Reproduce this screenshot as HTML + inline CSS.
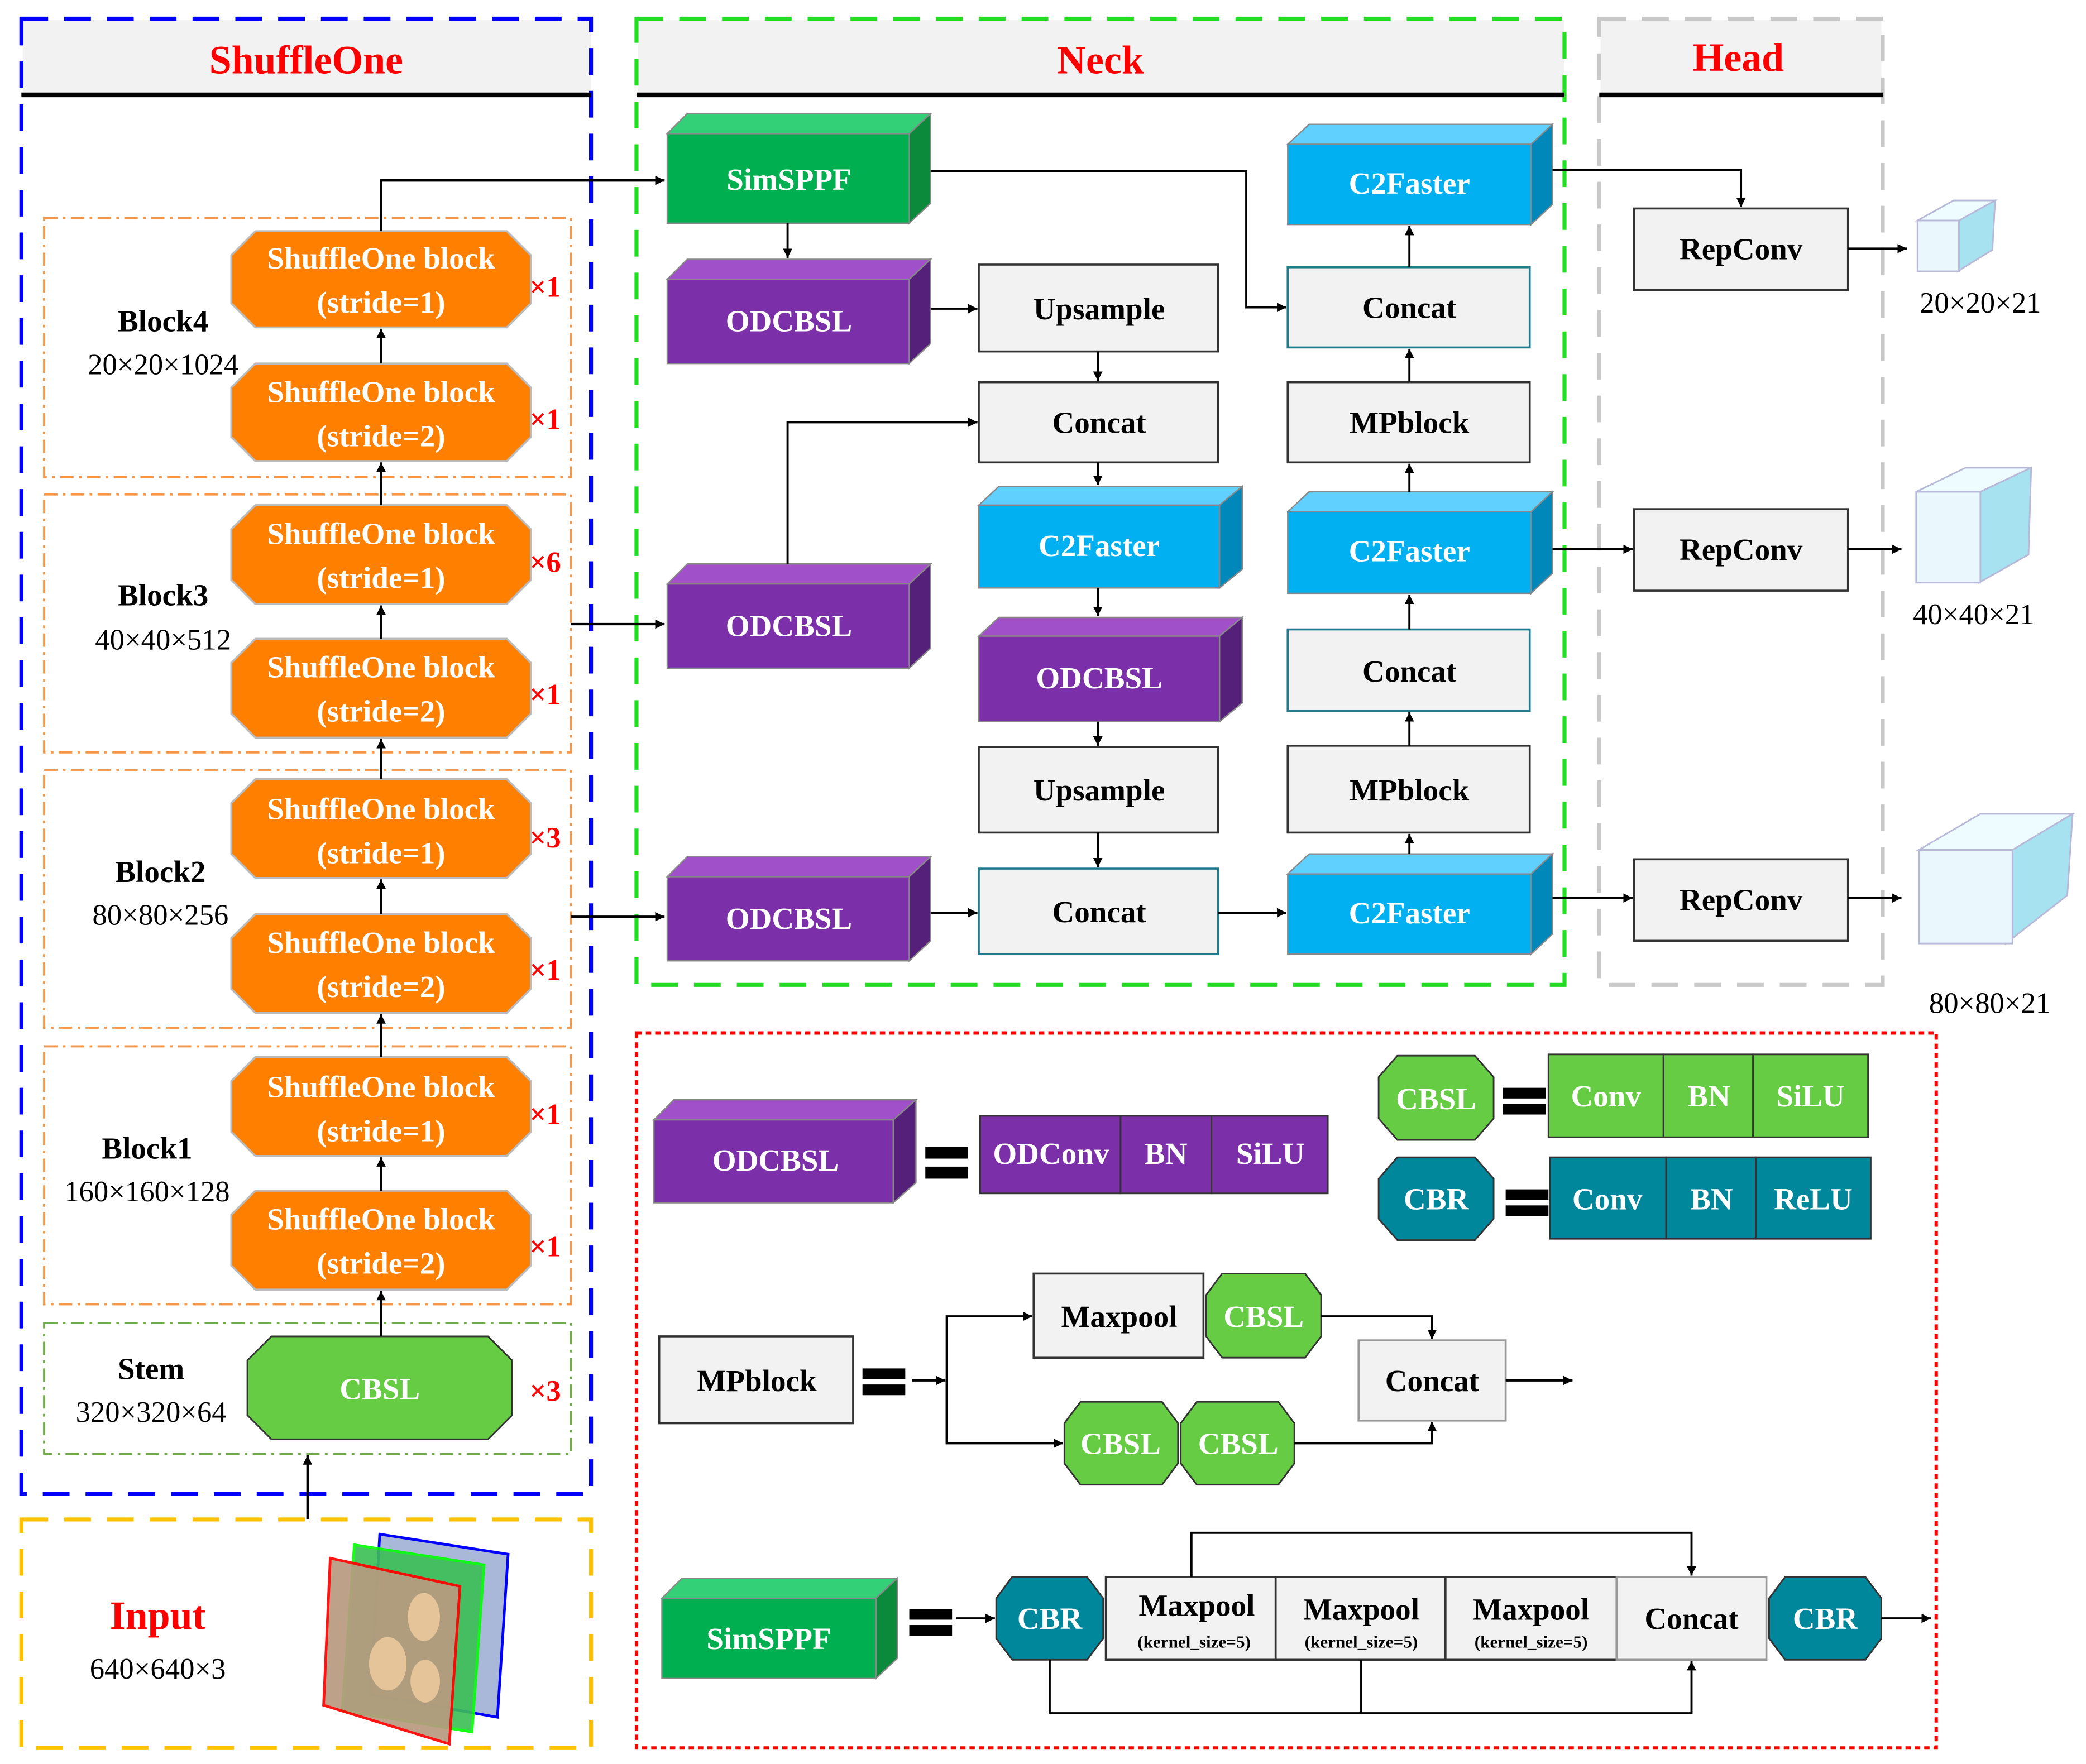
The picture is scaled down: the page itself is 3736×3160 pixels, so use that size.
<!DOCTYPE html>
<html><head><meta charset="utf-8"><style>html,body{margin:0;padding:0;background:#fff}svg{display:block}</style></head><body>
<svg xmlns="http://www.w3.org/2000/svg" width="3736" height="3160" viewBox="0 0 1560 1320" preserveAspectRatio="none" font-family="'Liberation Serif',serif" font-weight="bold">
<defs>
<marker id="a" viewBox="0 0 10 10" refX="10" refY="5" markerWidth="7" markerHeight="7" orient="auto" markerUnits="userSpaceOnUse"><path d="M0,0L10,5L0,10z" fill="#000"/></marker>
<marker id="b" viewBox="0 0 10 10" refX="10" refY="5" markerWidth="10" markerHeight="10" orient="auto" markerUnits="userSpaceOnUse"><path d="M0,0L10,5L0,10z" fill="#000"/></marker>
</defs>
<rect width="1560" height="1320" fill="#fff"/>

<!-- section frames -->
<rect x="17" y="15" width="425" height="56" fill="#f2f2f2"/>
<rect x="477" y="15" width="693" height="56" fill="#f2f2f2"/>
<rect x="1197" y="15" width="210" height="56" fill="#f2f2f2"/>
<rect x="16" y="14" width="426" height="1104" fill="none" stroke="#0000ff" stroke-width="3" stroke-dasharray="20,12"/>
<rect x="476" y="14" width="694" height="723" fill="none" stroke="#22dd22" stroke-width="3" stroke-dasharray="20,12"/>
<rect x="1196" y="14" width="212" height="723" fill="none" stroke="#c8c8c8" stroke-width="3" stroke-dasharray="20,12"/>
<rect x="16" y="1137" width="426" height="171" fill="none" stroke="#ffc000" stroke-width="3" stroke-dasharray="20,12"/>
<rect x="476" y="773" width="972" height="535" fill="none" stroke="#ff0000" stroke-width="2.5" stroke-dasharray="4,3"/>
<line x1="16" y1="71" x2="442" y2="71" stroke="#000" stroke-width="3.5"/>
<line x1="476" y1="71" x2="1170" y2="71" stroke="#000" stroke-width="3.5"/>
<line x1="1196" y1="71" x2="1408" y2="71" stroke="#000" stroke-width="3.5"/>
<g fill="#ff0000" font-size="30" text-anchor="middle">
<text x="229" y="55">ShuffleOne</text><text x="823" y="55">Neck</text><text x="1300" y="53">Head</text>
<text x="118" y="1219">Input</text></g>
<text x="118" y="1256" font-size="22" font-weight="normal" text-anchor="middle">640×640×3</text>

<!-- input image stack -->
<polygon points="284,1148 380,1163 372,1285 277,1268" fill="#a9b8d8" stroke="#0000ff" stroke-width="2"/>
<polygon points="265,1156 362,1171 353,1296 256,1280" fill="#3bbf55" stroke="#00ff00" stroke-width="2" opacity="0.9"/>
<polygon points="247,1166 344,1187 336,1305 242,1276" fill="#b89b80" stroke="#ff0000" stroke-width="2" opacity="0.92"/>
<ellipse cx="290" cy="1245" rx="14" ry="20" fill="#e6c49a"/><ellipse cx="317" cy="1210" rx="12" ry="18" fill="#e6c49a"/><ellipse cx="318" cy="1258" rx="11" ry="16" fill="#e6c49a"/>

<!-- dash-dot inner blocks -->
<g fill="none" stroke="#f79646" stroke-width="1.6" stroke-dasharray="10,4,2,4">
<rect x="33" y="163" width="394" height="194"/><rect x="33" y="370" width="394" height="193"/>
<rect x="33" y="576" width="394" height="193"/><rect x="33" y="783" width="394" height="193"/></g>
<rect x="33" y="990" width="394" height="98" fill="none" stroke="#70ad47" stroke-width="1.6" stroke-dasharray="10,4,2,4"/>

<!-- block labels -->
<g font-size="23" text-anchor="middle">
<text x="122" y="248">Block4</text><text x="122" y="453">Block3</text><text x="120" y="660">Block2</text><text x="110" y="867">Block1</text><text x="113" y="1032">Stem</text></g>
<g font-size="22" font-weight="normal" text-anchor="middle">
<text x="122" y="280">20×20×1024</text><text x="122" y="486">40×40×512</text><text x="120" y="692">80×80×256</text><text x="110" y="899">160×160×128</text><text x="113" y="1064">320×320×64</text></g>

<!-- orange octagons -->
<g fill="#ff7f00" stroke="#bbb" stroke-width="1.5">
<polygon points="191,173 379,173 397,191 397,227 379,245 191,245 173,227 173,191"/>
<polygon points="191,272 379,272 397,290 397,327 379,345 191,345 173,327 173,290"/>
<polygon points="191,378 379,378 397,396 397,434 379,452 191,452 173,434 173,396"/>
<polygon points="191,478 379,478 397,496 397,534 379,552 191,552 173,534 173,496"/>
<polygon points="191,583 379,583 397,601 397,639 379,657 191,657 173,639 173,601"/>
<polygon points="191,684 379,684 397,702 397,740 379,758 191,758 173,740 173,702"/>
<polygon points="191,791 379,791 397,809 397,847 379,865 191,865 173,847 173,809"/>
<polygon points="191,891 379,891 397,909 397,947 379,965 191,965 173,947 173,909"/></g>
<g fill="#fff" font-size="23" text-anchor="middle">
<text x="285" y="201">ShuffleOne block</text><text x="285" y="234">(stride=1)</text>
<text x="285" y="301">ShuffleOne block</text><text x="285" y="334">(stride=2)</text>
<text x="285" y="407">ShuffleOne block</text><text x="285" y="440">(stride=1)</text>
<text x="285" y="507">ShuffleOne block</text><text x="285" y="540">(stride=2)</text>
<text x="285" y="613">ShuffleOne block</text><text x="285" y="646">(stride=1)</text>
<text x="285" y="713">ShuffleOne block</text><text x="285" y="746">(stride=2)</text>
<text x="285" y="821">ShuffleOne block</text><text x="285" y="854">(stride=1)</text>
<text x="285" y="920">ShuffleOne block</text><text x="285" y="953">(stride=2)</text></g>
<g fill="#ff0000" font-size="22">
<text x="396" y="222">×1</text><text x="396" y="321">×1</text><text x="396" y="428">×6</text><text x="396" y="527">×1</text>
<text x="396" y="634">×3</text><text x="396" y="733">×1</text><text x="396" y="841">×1</text><text x="396" y="940">×1</text><text x="396" y="1048">×3</text></g>
<polygon points="203,1000 365,1000 383,1018 383,1059 365,1077 203,1077 185,1059 185,1018" fill="#66cc44" stroke="#333" stroke-width="1.2"/>
<text x="284" y="1047" fill="#fff" font-size="23" text-anchor="middle">CBSL</text>

<!-- left arrows -->
<g stroke="#000" stroke-width="1.8" fill="none" marker-end="url(#a)">
<line x1="285" y1="272" x2="285" y2="246"/><line x1="285" y1="378" x2="285" y2="346"/><line x1="285" y1="478" x2="285" y2="453"/>
<line x1="285" y1="583" x2="285" y2="553"/><line x1="285" y1="684" x2="285" y2="658"/><line x1="285" y1="791" x2="285" y2="759"/>
<line x1="285" y1="891" x2="285" y2="866"/><line x1="285" y1="1000" x2="285" y2="966"/><line x1="230" y1="1137" x2="230" y2="1089"/>
<polyline points="285,173 285,135 497,135"/><line x1="427" y1="467" x2="497" y2="467"/><line x1="427" y1="686" x2="497" y2="686"/>
</g>

<!-- 3D boxes -->
<g stroke="#888" stroke-width="1">
<!-- SimSPPF -->
<polygon points="499,100 514,85 696,85 680,100" fill="#33d077"/><polygon points="680,100 696,85 696,152 680,167" fill="#0a8a3a"/><rect x="499" y="100" width="181" height="67" fill="#00b050"/>
<!-- ODCBSL 1,2,3 -->
<polygon points="499,209 514,194 696,194 680,209" fill="#a050c8"/><polygon points="680,209 696,194 696,257 680,272" fill="#55207a"/><rect x="499" y="209" width="181" height="63" fill="#7b2fa8"/>
<polygon points="499,437 514,422 696,422 680,437" fill="#a050c8"/><polygon points="680,437 696,422 696,485 680,500" fill="#55207a"/><rect x="499" y="437" width="181" height="63" fill="#7b2fa8"/>
<polygon points="499,656 514,641 696,641 680,656" fill="#a050c8"/><polygon points="680,656 696,641 696,704 680,719" fill="#55207a"/><rect x="499" y="656" width="181" height="63" fill="#7b2fa8"/>
<!-- middle C2Faster / ODCBSL -->
<polygon points="732,378 747,364 929,364 912,378" fill="#5fd0ff"/><polygon points="912,378 929,364 929,426 912,440" fill="#0088bb"/><rect x="732" y="378" width="180" height="62" fill="#00b0f0"/>
<polygon points="732,476 747,462 929,462 912,476" fill="#a050c8"/><polygon points="912,476 929,462 929,526 912,540" fill="#55207a"/><rect x="732" y="476" width="180" height="64" fill="#7b2fa8"/>
<!-- right C2Faster x3 -->
<polygon points="963,108 979,93 1161,93 1145,108" fill="#5fd0ff"/><polygon points="1145,108 1161,93 1161,153 1145,168" fill="#0088bb"/><rect x="963" y="108" width="182" height="60" fill="#00b0f0"/>
<polygon points="963,383 979,368 1161,368 1145,383" fill="#5fd0ff"/><polygon points="1145,383 1161,368 1161,429 1145,444" fill="#0088bb"/><rect x="963" y="383" width="182" height="61" fill="#00b0f0"/>
<polygon points="963,654 979,639 1161,639 1145,654" fill="#5fd0ff"/><polygon points="1145,654 1161,639 1161,699 1145,714" fill="#0088bb"/><rect x="963" y="654" width="182" height="60" fill="#00b0f0"/>
<!-- legend ODCBSL & SimSPPF -->
<polygon points="489,838 504,823 685,823 668,838" fill="#a050c8"/><polygon points="668,838 685,823 685,885 668,900" fill="#55207a"/><rect x="489" y="838" width="179" height="62" fill="#7b2fa8"/>
<polygon points="495,1196 510,1181 671,1181 655,1196" fill="#33d077"/><polygon points="655,1196 671,1181 671,1241 655,1256" fill="#0a8a3a"/><rect x="495" y="1196" width="160" height="60" fill="#00b050"/>
</g>
<g fill="#fff" font-size="23" text-anchor="middle">
<text x="590" y="142">SimSPPF</text><text x="590" y="248">ODCBSL</text><text x="590" y="476">ODCBSL</text><text x="590" y="695">ODCBSL</text>
<text x="822" y="416">C2Faster</text><text x="822" y="515">ODCBSL</text>
<text x="1054" y="145">C2Faster</text><text x="1054" y="420">C2Faster</text><text x="1054" y="691">C2Faster</text>
<text x="580" y="876">ODCBSL</text><text x="575" y="1234">SimSPPF</text></g>

<!-- gray boxes -->
<g fill="#f2f2f2" stroke="#333" stroke-width="1.5">
<rect x="732" y="198" width="179" height="65"/><rect x="732" y="286" width="179" height="60"/><rect x="732" y="559" width="179" height="64"/>
<rect x="732" y="650" width="179" height="64" stroke="#1f7a8c"/>
<rect x="963" y="200" width="181" height="60" stroke="#1f7a8c"/><rect x="963" y="286" width="181" height="60"/><rect x="963" y="471" width="181" height="61" stroke="#1f7a8c"/><rect x="963" y="558" width="181" height="65"/>
<rect x="1222" y="156" width="160" height="61"/><rect x="1222" y="381" width="160" height="61"/><rect x="1222" y="643" width="160" height="61"/>
<rect x="493" y="1000" width="145" height="65"/><rect x="773" y="953" width="127" height="63"/><rect x="1016" y="1003" width="110" height="60" stroke="#999"/>
<rect x="827" y="1180" width="127" height="62"/><rect x="954" y="1180" width="127" height="62"/><rect x="1081" y="1180" width="128" height="62"/><rect x="1209" y="1180" width="112" height="62" stroke="#999"/>
</g>
<g fill="#000" font-size="23" text-anchor="middle">
<text x="822" y="239">Upsample</text><text x="822" y="324">Concat</text><text x="822" y="599">Upsample</text><text x="822" y="690">Concat</text>
<text x="1054" y="238">Concat</text><text x="1054" y="324">MPblock</text><text x="1054" y="510">Concat</text><text x="1054" y="599">MPblock</text>
<text x="1302" y="194">RepConv</text><text x="1302" y="419">RepConv</text><text x="1302" y="681">RepConv</text>
<text x="566" y="1041">MPblock</text><text x="837" y="993">Maxpool</text><text x="1071" y="1041">Concat</text>
<text x="895" y="1209">Maxpool</text><text x="1018" y="1212">Maxpool</text><text x="1145" y="1212">Maxpool</text><text x="1265" y="1219">Concat</text></g>
<g fill="#000" font-size="13" text-anchor="middle">
<text x="893" y="1233">(kernel_size=5)</text><text x="1018" y="1233">(kernel_size=5)</text><text x="1145" y="1233">(kernel_size=5)</text></g>

<!-- neck connectors -->
<g stroke="#000" stroke-width="1.6" fill="none" marker-end="url(#a)">
<line x1="589" y1="167" x2="589" y2="193"/>
<polyline points="696,128 932,128 932,230 962,230"/>
<polyline points="1161,127 1302,127 1302,155"/>
<line x1="696" y1="231" x2="731" y2="231"/>
<line x1="821" y1="263" x2="821" y2="285"/>
<polyline points="589,422 589,316 731,316"/>
<line x1="821" y1="346" x2="821" y2="363"/>
<line x1="821" y1="440" x2="821" y2="461"/>
<line x1="821" y1="540" x2="821" y2="558"/>
<line x1="821" y1="623" x2="821" y2="649"/>
<line x1="696" y1="683" x2="731" y2="683"/>
<line x1="911" y1="683" x2="962" y2="683"/>
<line x1="1054" y1="639" x2="1054" y2="624"/>
<line x1="1054" y1="558" x2="1054" y2="533"/>
<line x1="1054" y1="471" x2="1054" y2="445"/>
<line x1="1054" y1="368" x2="1054" y2="347"/>
<line x1="1054" y1="286" x2="1054" y2="261"/>
<line x1="1054" y1="200" x2="1054" y2="169"/>
<line x1="1161" y1="411" x2="1221" y2="411"/>
<line x1="1161" y1="672" x2="1221" y2="672"/>
<line x1="1382" y1="186" x2="1426" y2="186"/>
<line x1="1382" y1="411" x2="1422" y2="411"/>
<line x1="1382" y1="672" x2="1422" y2="672"/>
</g>

<!-- head cubes -->
<g stroke="#b8b8d8" stroke-width="1.2">
<polygon points="1434,165 1461,150 1492,150 1465,165" fill="#eefcff"/><polygon points="1465,165 1492,150 1490,187 1464,203" fill="#a6e2ef"/><rect x="1434" y="165" width="31" height="38" fill="#eaf8fd"/>
<polygon points="1433,368 1470,350 1519,350 1481,368" fill="#eefcff"/><polygon points="1481,368 1519,350 1517,415 1480,436" fill="#a6e2ef"/><rect x="1433" y="368" width="48" height="68" fill="#eaf8fd"/>
<polygon points="1435,636 1481,609 1550,609 1505,636" fill="#eefcff"/><polygon points="1505,636 1550,609 1546,670 1500,706" fill="#a6e2ef"/><rect x="1435" y="636" width="70" height="70" fill="#eaf8fd"/>
</g>
<g fill="#000" font-size="22" font-weight="normal" text-anchor="middle">
<text x="1481" y="234">20×20×21</text><text x="1476" y="467">40×40×21</text><text x="1488" y="758">80×80×21</text></g>

<!-- legend: segmented boxes -->
<g stroke="#333" stroke-width="1.2">
<rect x="733" y="835" width="105" height="58" fill="#7b2fa8"/><rect x="838" y="835" width="68" height="58" fill="#7b2fa8"/><rect x="906" y="835" width="87" height="58" fill="#7b2fa8"/>
<rect x="1158" y="789" width="86" height="62" fill="#66cc44"/><rect x="1244" y="789" width="67" height="62" fill="#66cc44"/><rect x="1311" y="789" width="86" height="62" fill="#66cc44"/>
<rect x="1159" y="866" width="87" height="61" fill="#00879c"/><rect x="1246" y="866" width="67" height="61" fill="#00879c"/><rect x="1313" y="866" width="86" height="61" fill="#00879c"/>
<polygon points="1045,790 1103,790 1117,806 1117,837 1103,853 1045,853 1031,837 1031,806" fill="#66cc44"/>
<polygon points="1045,866 1103,866 1117,882 1117,912 1103,928 1045,928 1031,912 1031,882" fill="#00879c"/>
<polygon points="914,953 976,953 988,969 988,1000 976,1016 914,1016 902,1000 902,969" fill="#66cc44"/>
<polygon points="808,1049 869,1049 881,1065 881,1095 869,1111 808,1111 796,1095 796,1065" fill="#66cc44"/>
<polygon points="895,1049 956,1049 968,1065 968,1095 956,1111 895,1111 883,1095 883,1065" fill="#66cc44"/>
<polygon points="757,1180 813,1180 825,1196 825,1226 813,1242 757,1242 745,1226 745,1196" fill="#00879c"/>
<polygon points="1335,1180 1395,1180 1407,1196 1407,1226 1395,1242 1335,1242 1323,1226 1323,1196" fill="#00879c"/>
</g>
<g fill="#fff" font-size="23" text-anchor="middle">
<text x="786" y="871">ODConv</text><text x="872" y="871">BN</text><text x="950" y="871">SiLU</text>
<text x="1201" y="828">Conv</text><text x="1278" y="828">BN</text><text x="1354" y="828">SiLU</text>
<text x="1202" y="905">Conv</text><text x="1280" y="905">BN</text><text x="1356" y="905">ReLU</text>
<text x="1074" y="830">CBSL</text><text x="1074" y="905">CBR</text><text x="945" y="993">CBSL</text>
<text x="838" y="1088">CBSL</text><text x="926" y="1088">CBSL</text><text x="785" y="1219">CBR</text><text x="1365" y="1219">CBR</text></g>
<!-- equals signs -->
<g fill="#000">
<rect x="692" y="858" width="32" height="9"/><rect x="692" y="873" width="32" height="9"/>
<rect x="1124" y="814" width="32" height="8"/><rect x="1124" y="826" width="32" height="8"/>
<rect x="1126" y="890" width="32" height="8"/><rect x="1126" y="902" width="32" height="8"/>
<rect x="645" y="1024" width="32" height="8"/><rect x="645" y="1036" width="32" height="8"/>
<rect x="680" y="1204" width="32" height="8"/><rect x="680" y="1216" width="32" height="8"/>
</g>
<!-- legend connectors -->
<g stroke="#000" stroke-width="1.6" fill="none" marker-end="url(#a)">
<line x1="682" y1="1033" x2="707" y2="1033"/>
<polyline points="708,1080 708,985 772,985"/>
<polyline points="708,1033 708,1080 795,1080"/>
<polyline points="988,985 1071,985 1071,1002"/>
<polyline points="968,1080 1071,1080 1071,1064"/>
<line x1="1126" y1="1033" x2="1176" y2="1033"/>
<line x1="715" y1="1211" x2="744" y2="1211"/>
<polyline points="891,1180 891,1147 1265,1147 1265,1179"/>
<polyline points="785,1242 785,1282 1265,1282 1265,1243"/>
<line x1="1018" y1="1242" x2="1018" y2="1282" marker-end="none"/>
<line x1="1407" y1="1211" x2="1444" y2="1211"/>
</g>
</svg>
</body></html>
